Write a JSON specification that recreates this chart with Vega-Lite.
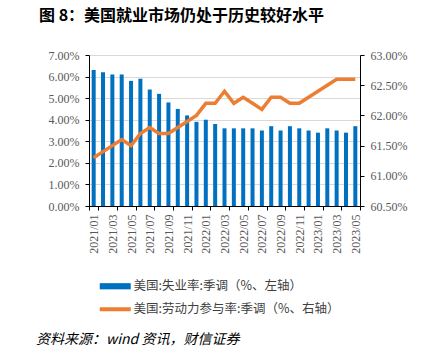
{
  "$schema": "https://vega.github.io/schema/vega-lite/v6.json",
  "background": "white",
  "padding": {"left": 36, "top": 8, "right": 5, "bottom": 5},
  "title": {"text": "资料来源：wind 资讯，财信证券", "orient": "bottom", "anchor": "start", "frame": "bounds", "font": "Noto Sans CJK SC", "fontSize": 14, "fontStyle": "italic", "fontWeight": "normal", "color": "#000000", "offset": 15, "dx": -3},
  "vconcat": [
    {
      "title": {"text": "图 8：美国就业市场仍处于历史较好水平", "anchor": "start", "frame": "bounds", "font": "Noto Sans CJK SC", "fontSize": 16, "fontWeight": "bold", "color": "#000000", "offset": 25, "dx": -9},
      "width": 271,
      "height": 151,
      "data": {"values": [
        {"month": "2021/01", "ur": 6.3, "lfpr": 61.3},
        {"month": "2021/02", "ur": 6.2, "lfpr": 61.4},
        {"month": "2021/03", "ur": 6.1, "lfpr": 61.5},
        {"month": "2021/04", "ur": 6.1, "lfpr": 61.6},
        {"month": "2021/05", "ur": 5.8, "lfpr": 61.5},
        {"month": "2021/06", "ur": 5.9, "lfpr": 61.7},
        {"month": "2021/07", "ur": 5.4, "lfpr": 61.8},
        {"month": "2021/08", "ur": 5.2, "lfpr": 61.7},
        {"month": "2021/09", "ur": 4.8, "lfpr": 61.7},
        {"month": "2021/10", "ur": 4.5, "lfpr": 61.8},
        {"month": "2021/11", "ur": 4.2, "lfpr": 61.9},
        {"month": "2021/12", "ur": 3.9, "lfpr": 62.0},
        {"month": "2022/01", "ur": 4.0, "lfpr": 62.2},
        {"month": "2022/02", "ur": 3.8, "lfpr": 62.2},
        {"month": "2022/03", "ur": 3.6, "lfpr": 62.4},
        {"month": "2022/04", "ur": 3.6, "lfpr": 62.2},
        {"month": "2022/05", "ur": 3.6, "lfpr": 62.3},
        {"month": "2022/06", "ur": 3.6, "lfpr": 62.2},
        {"month": "2022/07", "ur": 3.5, "lfpr": 62.1},
        {"month": "2022/08", "ur": 3.7, "lfpr": 62.3},
        {"month": "2022/09", "ur": 3.5, "lfpr": 62.3},
        {"month": "2022/10", "ur": 3.7, "lfpr": 62.2},
        {"month": "2022/11", "ur": 3.6, "lfpr": 62.2},
        {"month": "2022/12", "ur": 3.5, "lfpr": 62.3},
        {"month": "2023/01", "ur": 3.4, "lfpr": 62.4},
        {"month": "2023/02", "ur": 3.6, "lfpr": 62.5},
        {"month": "2023/03", "ur": 3.5, "lfpr": 62.6},
        {"month": "2023/04", "ur": 3.4, "lfpr": 62.6},
        {"month": "2023/05", "ur": 3.7, "lfpr": 62.6}
      ]},
      "encoding": {
        "x": {
          "field": "month", "type": "ordinal", "sort": null,
          "scale": {"paddingInner": 0, "paddingOuter": 0},
          "axis": {
            "title": null,
            "values": ["2021/01","2021/03","2021/05","2021/07","2021/09","2021/11","2022/01","2022/03","2022/05","2022/07","2022/09","2022/11","2023/01","2023/03","2023/05"],
            "labelAngle": -90,
            "tickBand": "extent",
            "tickSize": 4,
            "labelPadding": 4,
            "domainColor": "#000000",
            "tickColor": "#000000",
            "grid": false
          }
        }
      },
      "layer": [
        {
          "mark": {"type": "bar", "size": 4},
          "encoding": {
            "y": {
              "field": "ur", "type": "quantitative",
              "scale": {"domain": [0, 7], "nice": false, "zero": true},
              "axis": {
                "title": null, "orient": "left",
                "values": [0, 1, 2, 3, 4, 5, 6, 7],
                "labelExpr": "format(datum.value, '.2f') + '%'",
                "grid": true, "gridColor": "#D9D9D9",
                "domainColor": "#000000", "tickColor": "#000000",
                "tickSize": 4, "labelPadding": 6
              }
            },
            "color": {
              "datum": "美国:失业率:季调（%、左轴）",
              "scale": {"domain": ["美国:失业率:季调（%、左轴）", "美国:劳动力参与率:季调（%、右轴）"], "range": ["#0070C0", "#ED7D31"]},
              "legend": {
                "title": null,
                "orient": "bottom",
                "direction": "vertical",
                "offset": 26,
                "labelFont": "Noto Sans CJK SC",
                "labelFontSize": 12.5,
                "labelColor": "#404040",
                "labelLimit": 0,
                "labelOffset": 12,
                "rowPadding": 8,
                "symbolSize": 961,
                "encode": {
                  "symbols": {
                    "update": {
                      "shape": {"signal": "datum.value == '美国:失业率:季调（%、左轴）' ? 'M-1,-0.2H1V0.2H-1Z' : 'stroke'"},
                      "fill": {"signal": "datum.value == '美国:失业率:季调（%、左轴）' ? '#0070C0' : 'transparent'"},
                      "stroke": {"signal": "datum.value == '美国:失业率:季调（%、左轴）' ? 'transparent' : '#ED7D31'"},
                      "strokeWidth": {"signal": "datum.value == '美国:失业率:季调（%、左轴）' ? 0 : 4"},
                      "opacity": {"value": 1}
                    }
                  }
                }
              }
            }
          }
        },
        {
          "mark": {"type": "line", "strokeWidth": 3.5},
          "encoding": {
            "y": {
              "field": "lfpr", "type": "quantitative",
              "scale": {"domain": [60.5, 63], "nice": false, "zero": false},
              "axis": {
                "title": null, "orient": "right",
                "values": [60.5, 61, 61.5, 62, 62.5, 63],
                "labelExpr": "format(datum.value, '.2f') + '%'",
                "grid": false,
                "domainColor": "#000000", "tickColor": "#000000",
                "tickSize": 4, "labelPadding": 6
              }
            },
            "color": {"datum": "美国:劳动力参与率:季调（%、右轴）"}
          }
        }
      ],
      "resolve": {"scale": {"y": "independent"}}
    }
  ],
  "config": {
    "view": {"stroke": null},
    "legend": {"layout": {"bottom": {"anchor": "middle", "center": true}}},
    "axis": {
      "labelFont": "Liberation Serif",
      "labelFontSize": 12,
      "labelColor": "#595959",
      "domainWidth": 1,
      "tickWidth": 1
    }
  }
}
